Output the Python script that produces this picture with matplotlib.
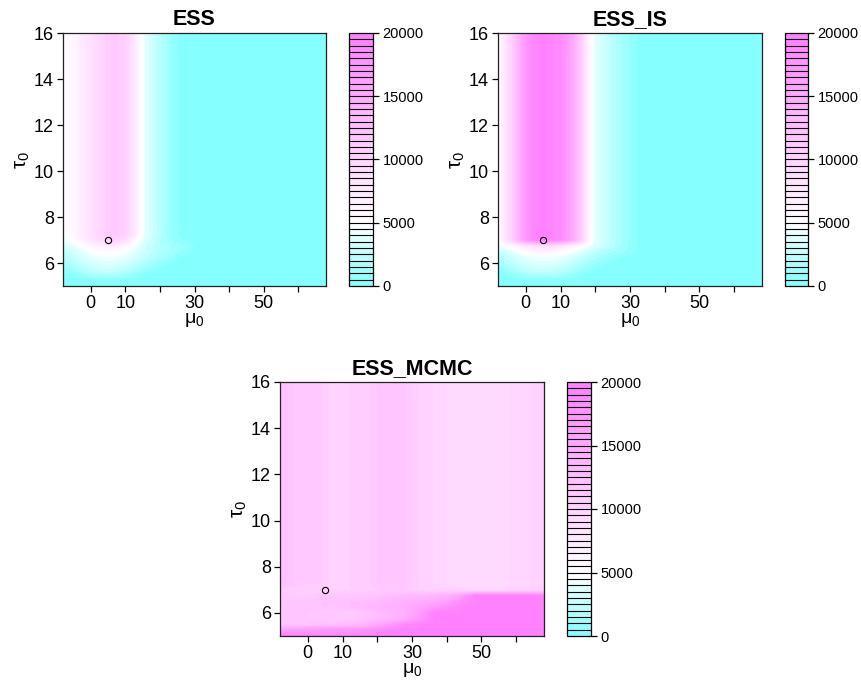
"""
ESS heatmaps over (mu0, tau0)
"""

import numpy as np
import matplotlib
matplotlib.use("Agg")
import matplotlib.pyplot as plt
from matplotlib.colors import ListedColormap, Normalize

plt.rcParams['font.family'] = ['Liberation Sans', 'DejaVu Sans']
plt.rcParams['mathtext.fontset'] = 'custom'
plt.rcParams['mathtext.rm'] = 'Liberation Sans'
plt.rcParams['mathtext.it'] = 'Liberation Sans:italic'


# DATA

# grid for ESS and ESS_IS: mu0 every 2, tau0 every 0.25
MU = list(range(-8, 70, 2))                 # 39 columns
MU_LOW = list(range(-8, 34, 2))             # columns given explicitly below tau0 = 7.5
TAU = [5.0 + 0.25 * i for i in range(45)]   # 5.0 .. 16.0
N_LOW = 10                                  # rows 5.0 .. 7.25

ESS_TOP = [5300, 5800, 6500, 7500, 8500, 9500, 10500, 11000, 11000, 10500,
           8500, 6000, 3800, 3000, 2200, 1500, 700, 400] + [250] * 21
ESS_LOW = [
    [250] * 21,
    [250, 250, 300, 350, 450, 500, 500, 500, 500, 450, 350, 300, 250, 250, 250, 250, 250, 250, 250, 250, 250],
    [250, 400, 700, 1200, 1600, 1900, 2000, 2000, 1800, 1500, 1100, 700, 400, 250, 250, 250, 250, 250, 250, 250, 250],
    [700, 1200, 1800, 2300, 2700, 3000, 3100, 3100, 2900, 2600, 2100, 1600, 1100, 700, 400, 250, 250, 250, 250, 250, 250],
    [1500, 2000, 2500, 3000, 3300, 3600, 3800, 3800, 3600, 3300, 2800, 2300, 1800, 1300, 900, 600, 350, 250, 250, 250, 250],
    [2000, 2500, 3000, 3500, 4000, 4300, 4500, 4500, 4300, 4000, 3500, 3000, 2500, 2000, 1600, 1200, 800, 500, 300, 250, 250],
    [2500, 3000, 3500, 4200, 4800, 5300, 5600, 5600, 5300, 4800, 4200, 3500, 3000, 2500, 2000, 1700, 1400, 1000, 600, 350, 250],
    [3200, 3800, 4500, 5300, 6200, 7000, 7500, 7500, 7000, 6000, 5000, 4000, 3000, 2500, 2000, 1700, 1400, 1200, 900, 500, 300],
    [4200, 4800, 5800, 7000, 8000, 9000, 10000, 10500, 10000, 9000, 6500, 4800, 3500, 2800, 2000, 1500, 900, 600, 400, 300, 250],
    [5000, 5500, 6300, 7400, 8400, 9400, 10400, 11000, 11000, 10500, 8500, 6000, 3800, 3000, 2200, 1500, 700, 400, 250, 250, 250],
]

ESS_IS_TOP = [5500, 7500, 10500, 14000, 17000, 19000, 19500, 19500, 19000, 18500,
              17000, 14500, 11000, 6500, 4000, 3300, 2600, 2000, 1400, 900,
              500, 300] + [250] * 17
ESS_IS_LOW = [
    [250] * 21,
    [250, 250, 300, 350, 450, 500, 500, 500, 500, 500, 400, 300, 250, 250, 250, 250, 250, 250, 250, 250, 250],
    [250, 400, 700, 1200, 1600, 1900, 2000, 2000, 1900, 1600, 1200, 800, 400, 250, 250, 250, 250, 250, 250, 250, 250],
    [700, 1200, 1800, 2300, 2700, 3000, 3100, 3100, 3000, 2700, 2300, 1800, 1300, 900, 500, 300, 250, 250, 250, 250, 250],
    [1500, 2000, 2500, 3000, 3300, 3600, 3800, 3800, 3700, 3400, 3000, 2500, 2000, 1500, 1100, 700, 400, 250, 250, 250, 250],
    [2000, 2500, 3000, 3500, 4000, 4300, 4500, 4500, 4400, 4100, 3700, 3200, 2700, 2200, 1700, 1300, 900, 600, 400, 250, 250],
    [2900, 3400, 4100, 4800, 5400, 6000, 6300, 6300, 6100, 5700, 5100, 4500, 3900, 3200, 2500, 2000, 1700, 1400, 1100, 800, 450],
    [4500, 5200, 6000, 7000, 8000, 8800, 9200, 9200, 9000, 8500, 7500, 6500, 5500, 4500, 3600, 3000, 2400, 1800, 1300, 900, 500],
    [5500, 7500, 10500, 14000, 17000, 19000, 19500, 19500, 19000, 18500, 17000, 14500, 11000, 6500, 4000, 3300, 2600, 2000, 1400, 900, 500],
    [5500, 7500, 10500, 14000, 17000, 19000, 19500, 19500, 19000, 18500, 17000, 14500, 11000, 6500, 4000, 3300, 2600, 2000, 1400, 900, 500],
]

# grid for ESS_MCMC: mu0 every 4
MU3 = list(range(-8, 72, 4))                # 20 columns
ESS_MCMC_TOP = [12500, 11500, 11000, 11000, 10000, 10500, 10500, 11500, 11500, 11500,
                10500, 10000, 9500, 9000, 9000, 9000, 9200, 9800, 10000, 10000]
ESS_MCMC_LOW = [
    [19500] * 20,
    [16500, 16500, 17000, 17000, 17500, 17500, 18000, 18500] + [19500] * 12,
    [12000, 12000, 12000, 12500, 12500, 13000, 13500, 15000, 17000, 19000] + [19500] * 10,
    [11500, 11500, 11500, 11500, 11000, 11500, 12000, 12500, 13500, 14500, 17000] + [19500] * 9,
    [11500, 11500, 11500, 11000, 11000, 11000, 12000, 12500, 13500, 14500, 16500] + [19500] * 9,
    [11500, 11500, 12000, 12000, 12000, 12500, 13000, 13500, 14000, 14500, 15500, 17000, 18500] + [19500] * 7,
    [11500, 11500, 11500, 12000, 12000, 12500, 12500, 13000, 13500, 14000, 14500, 15000, 16000, 18500] + [19500] * 6,
    [11500, 11000, 11000, 11500, 11500, 11500, 12000, 12000, 12500, 13000, 13500, 13500, 14000, 16000] + [19500] * 6,
    [11000, 10500, 10500, 10500, 10500, 10500, 10500, 11000, 11000, 11000, 10500, 10500, 10500, 10000, 9500, 9500, 9500, 10000, 10000, 10000],
    [12500, 11500, 11000, 11000, 10000, 10500, 10500, 11500, 11500, 11500, 10500, 10000, 9500, 9000, 9000, 9000, 9200, 9800, 10000, 10000],
]

POINT = (5, 7)
ZMAX = 20000
COLORBAR_TICKS = [0, 5000, 10000, 15000, 20000]


# PALETTE: cyan -> white at 5000 -> magenta, 40 bins of 500
colors = []
for i in range(40):
    v = 250 + 500 * i
    if v < 5000:
        s = 0.5 * (1 - v / 5000)
        colors.append((1 - s, 1, 1))
    else:
        s = 0.5 * (v - 5000) / 15000
        colors.append((1, 1 - s, 1))
cmap = ListedColormap(colors)
norm = Normalize(0, ZMAX)


def build(top, low, ncols):
    low = np.array(low, dtype=float)
    if low.shape[1] < ncols:
        low = np.hstack([low, np.full((low.shape[0], ncols - low.shape[1]), 250.0)])
    upper = np.tile(np.array(top, dtype=float), (len(TAU) - N_LOW, 1))
    return np.vstack([low, upper])


def panel(ax, cax, mu, z, title):
    dx = (mu[1] - mu[0]) / 2
    dy = (TAU[1] - TAU[0]) / 2
    im = ax.imshow(z, origin='lower', aspect='auto', cmap=cmap, norm=norm,
                   interpolation='bilinear', interpolation_stage='data',
                   extent=[mu[0] - dx, mu[-1] + dx, TAU[0] - dy, TAU[-1] + dy])
    ax.plot(*POINT, 'o', mfc='none', mec='black', ms=4.5, mew=0.8)
    ax.set_xlim(-8, 68)
    ax.set_ylim(5, 16)
    ax.set_xticks(range(0, 70, 10))
    ax.set_xticklabels(['0', '10', '', '30', '', '50', ''])
    ax.set_yticks(range(6, 17, 2))
    ax.tick_params(direction='out', length=4.5, width=0.9, labelsize=13, pad=2)
    for sp in ax.spines.values():
        sp.set_linewidth(0.9)
        sp.set_color('#222222')
    ax.set_xlabel(r'$\mathrm{\mu_0}$', fontsize=14, labelpad=-1)
    ax.set_ylabel(r'$\mathrm{\tau_0}$', fontsize=15, labelpad=1)
    ax.set_title(title, fontsize=15.5, fontweight='bold', pad=6)

    cb = plt.colorbar(im, cax=cax, drawedges=True)
    cb.set_ticks(COLORBAR_TICKS)
    cb.set_ticklabels([str(t) for t in COLORBAR_TICKS])
    cb.dividers.set_color('black')
    cb.dividers.set_linewidth(0.8)
    cb.outline.set_linewidth(0.9)
    cax.tick_params(direction='out', length=4, width=0.9, labelsize=10.5, pad=3)


fig = plt.figure(figsize=(8.62, 6.83), dpi=100)
W, H = 862, 683


def box(x0, y0, x1, y1):
    return [x0 / W, (H - y1) / H, (x1 - x0) / W, (y1 - y0) / H]


ax1 = fig.add_axes(box(63, 33, 326, 286))
cax1 = fig.add_axes(box(349, 33, 373, 286))
ax2 = fig.add_axes(box(498, 33, 762, 286))
cax2 = fig.add_axes(box(785, 33, 808, 286))
ax3 = fig.add_axes(box(280, 382, 544, 636))
cax3 = fig.add_axes(box(567, 382, 591, 636))

panel(ax1, cax1, MU, build(ESS_TOP, ESS_LOW, len(MU)), 'ESS')
panel(ax2, cax2, MU, build(ESS_IS_TOP, ESS_IS_LOW, len(MU)), 'ESS_IS')
panel(ax3, cax3, MU3, build(ESS_MCMC_TOP, ESS_MCMC_LOW, len(MU3)), 'ESS_MCMC')

fig.savefig('out.png', dpi=100)
